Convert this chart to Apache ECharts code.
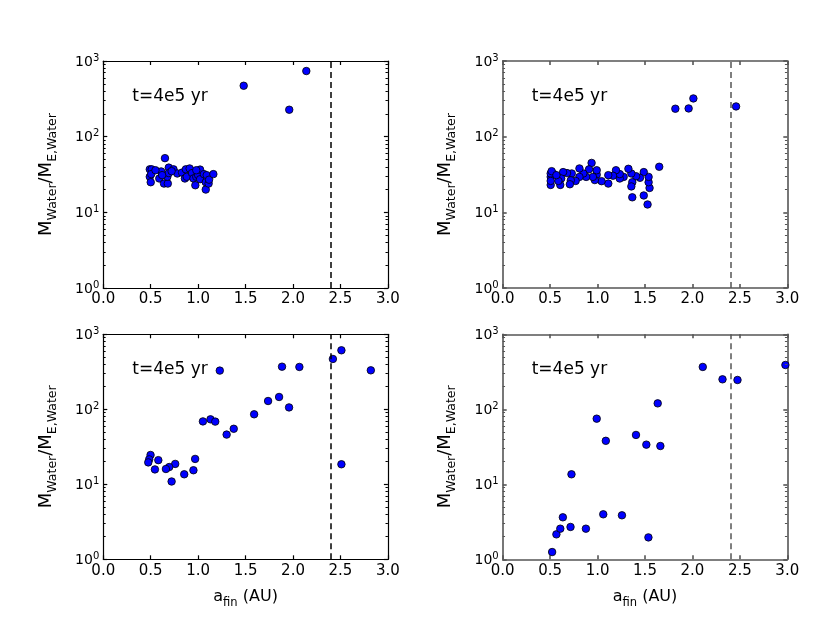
<!DOCTYPE html>
<html>
<head>
<meta charset="utf-8">
<script src="https://cdn.jsdelivr.net/npm/echarts@6/dist/echarts.min.js"></script>
<style>
html, body { margin: 0; padding: 0; background: #fff; }
#chart { width: 830px; height: 623px; }
</style>
</head>
<body>
<div id="chart"></div>
<script>
// data (a_fin in AU, water mass in Earth water masses)
var a1 = [0.49, 0.49, 0.50, 0.51, 0.505, 0.59, 0.61, 0.64, 0.65, 0.68, 0.675, 0.69, 0.69, 0.74, 0.78, 0.83, 0.86, 0.87, 0.88, 0.91, 0.935, 0.95, 0.97, 0.98, 1.0, 1.02, 1.02, 1.06, 1.08, 1.08, 1.09, 1.11, 1.115, 1.16, 0.98, 0.55, 0.62, 0.72, 1.48, 1.96, 2.14];
var m1 = [37, 29.5, 25, 37, 32, 28, 34.7, 24, 52, 24, 29.5, 39, 33, 37, 32.6, 33.5, 28, 37, 29.5, 38, 33, 28, 22.8, 29.5, 31, 36.7, 27.4, 32, 25, 20, 31, 24, 27, 32, 36, 36, 31, 35, 471, 227, 737];

var a2 = [1.82, 1.96, 2.01, 2.46, 1.65, 0.937, 1.366, 1.527, 1.487, 1.548, 1.538, 1.538, 1.487, 1.447, 1.406, 1.356, 1.366, 1.356, 1.325, 1.275, 1.234, 1.234, 1.194, 1.163, 1.113, 1.113, 1.042, 0.991, 0.991, 0.971, 0.951, 0.910, 0.880, 0.850, 0.809, 0.809, 0.769, 0.728, 0.718, 0.708, 0.678, 0.637, 0.617, 0.607, 0.587, 0.536, 0.506, 0.506, 0.506, 0.506, 0.516, 0.566];
var m2 = [234, 236, 320, 251, 40, 45, 15.8, 12.7, 16.7, 21, 25, 29.4, 34, 28.6, 30, 32.6, 25, 22, 37.6, 29.4, 28, 32, 36, 30.5, 31, 24, 25.8, 31.5, 36, 26.7, 29.4, 37, 29.4, 32.6, 38, 29.4, 26, 32.6, 26.5, 23.5, 33, 34, 28, 23, 26, 32, 29.4, 32.6, 23, 26, 35, 31];

var a3 = [1.228, 2.42, 2.51, 2.82, 2.51, 1.884, 2.067, 1.853, 1.737, 1.958, 1.59, 1.375, 1.30, 1.05, 1.13, 1.18, 0.968, 0.95, 0.853, 0.758, 0.695, 0.66, 0.72, 0.58, 0.544, 0.498, 0.484, 0.474];
var m3 = [328, 469, 612, 331, 18.5, 370, 367, 146, 129, 106, 85.8, 55, 46, 69, 73.5, 68.5, 21.8, 15.4, 13.6, 18.7, 17, 16, 10.9, 21, 15.8, 24.6, 21.5, 19.6];

var a4 = [0.521, 0.566, 0.607, 0.634, 0.715, 0.725, 0.877, 0.991, 1.060, 1.087, 1.257, 1.405, 1.514, 1.536, 1.634, 1.662, 2.109, 2.317, 2.475, 2.98];
var m4 = [1.25, 2.15, 2.56, 3.63, 2.7, 13.6, 2.56, 75, 3.98, 38, 3.86, 45.5, 33.8, 1.96, 120, 32.4, 367, 251, 246, 390];

var snowLine = 2.4;
var timeLabel = 't=4e5 yr';
var minorTicks = [2, 3, 4, 5, 6, 7, 8, 9, 20, 30, 40, 50, 60, 70, 80, 90, 200, 300, 400, 500, 600, 700, 800, 900];

var font = 'DejaVu Sans';
var xMin = 0, xMax = 3;
var minorLen = 0.025; // minor log tick length, in AU
var panels = [
    { a: a1, m: m1, left: 103.3, top: 61, h: 227, color: '#000', lw: 1.2, xname: false },
    { a: a2, m: m2, left: 502.7, top: 61, h: 227, color: '#555', lw: 1.6, xname: false },
    { a: a3, m: m3, left: 103.3, top: 334.3, h: 225, color: '#000', lw: 1.2, xname: true },
    { a: a4, m: m4, left: 502.7, top: 334.3, h: 225, color: '#555', lw: 1.6, xname: true }
];

var grids = [], xAxes = [], yAxes = [], series = [], texts = [];

panels.forEach(function (p, i) {
    var line = { color: p.color, width: p.lw };
    grids.push({ left: p.left, top: p.top, width: 284.6, height: p.h, containLabel: false });

    var xi = xAxes.length;
    xAxes.push({
        type: 'value', gridIndex: i, min: xMin, max: xMax, interval: 0.5, position: 'bottom',
        axisLine: { show: true, onZero: false, lineStyle: line },
        axisTick: { show: true, inside: true, length: 4, lineStyle: line },
        axisLabel: { margin: 4, fontFamily: font, fontSize: 15, color: '#000',
            formatter: function (v) { return v.toFixed(1); } },
        splitLine: { show: false },
        name: p.xname ? '{a|a}{s|fin}{a| (AU)}' : '',
        nameLocation: 'middle', nameGap: 30,
        nameTextStyle: { rich: {
            a: { fontFamily: font, fontSize: 16, color: '#000', lineHeight: 20, verticalAlign: 'top', padding: [0, 0, 3, 0] },
            s: { fontFamily: font, fontSize: 11.5, color: '#000', lineHeight: 13, verticalAlign: 'bottom' }
        } }
    });
    xAxes.push({
        type: 'value', gridIndex: i, min: xMin, max: xMax, interval: 0.5, position: 'top',
        axisLine: { show: true, onZero: false, lineStyle: line },
        axisTick: { show: true, inside: true, length: 4, lineStyle: line },
        axisLabel: { show: false }, splitLine: { show: false }
    });

    var yi = yAxes.length;
    yAxes.push({
        type: 'log', logBase: 10, gridIndex: i, min: 1, max: 1000, position: 'left',
        axisLine: { show: true, onZero: false, lineStyle: line },
        axisTick: { show: true, inside: true, length: 4, lineStyle: line },
        axisLabel: { margin: 4, color: '#000',
            formatter: function (v) { return '{b|10}{p|' + Math.round(Math.log10(v)) + '}'; },
            rich: {
                b: { fontFamily: font, fontSize: 14, color: '#000', lineHeight: 16, verticalAlign: 'bottom', padding: [5, 0, 0, 0] },
                p: { fontFamily: font, fontSize: 10, color: '#000', lineHeight: 12, verticalAlign: 'top' }
            } },
        splitLine: { show: false },
        name: '{m|M}{s|Water}{m|/M}{s|E,Water}',
        nameLocation: 'middle', nameRotate: 90, nameGap: 44,
        nameTextStyle: { rich: {
            m: { fontFamily: font, fontSize: 18, color: '#000', lineHeight: 22, verticalAlign: 'top', padding: [0, 0, 3, 0] },
            s: { fontFamily: font, fontSize: 12.5, color: '#000', lineHeight: 14, verticalAlign: 'bottom' }
        } }
    });
    yAxes.push({
        type: 'log', logBase: 10, gridIndex: i, min: 1, max: 1000, position: 'right',
        axisLine: { show: true, onZero: false, lineStyle: line },
        axisTick: { show: true, inside: true, length: 4, lineStyle: line },
        axisLabel: { show: false }, splitLine: { show: false }
    });

    // dashed snow line + minor log ticks on both sides
    var marks = [{ xAxis: snowLine }];
    var tickStyle = { type: 'solid', width: 1, color: p.color };
    minorTicks.forEach(function (v) {
        marks.push([{ coord: [xMin, v], lineStyle: tickStyle }, { coord: [xMin + minorLen, v] }]);
        marks.push([{ coord: [xMax - minorLen, v], lineStyle: tickStyle }, { coord: [xMax, v] }]);
    });

    series.push({
        type: 'scatter', xAxisIndex: xi, yAxisIndex: yi,
        data: p.a.map(function (x, k) { return [x, p.m[k]]; }),
        symbolSize: 7.5,
        itemStyle: { color: '#0000ff', borderColor: '#000', borderWidth: 0.8, opacity: 1 },
        clip: false,
        markLine: {
            silent: true, symbol: 'none', animation: false,
            label: { show: false },
            lineStyle: { color: p.color, width: 1.5, type: [6, 4] },
            data: marks
        }
    });

    texts.push({
        type: 'text', left: p.left + 29, top: p.top + 27,
        style: { text: timeLabel, font: '17px "DejaVu Sans"', fill: '#000' }
    });
});

var dom = document.getElementById('chart');
var myChart = echarts.init(dom, null, { renderer: 'canvas' });
var option = {
    backgroundColor: '#fff',
    animation: false,
    grid: grids,
    xAxis: xAxes,
    yAxis: yAxes,
    series: series,
    graphic: texts
};
myChart.setOption(option, true);
window.onresize = myChart.resize;
</script>
</body>
</html>
